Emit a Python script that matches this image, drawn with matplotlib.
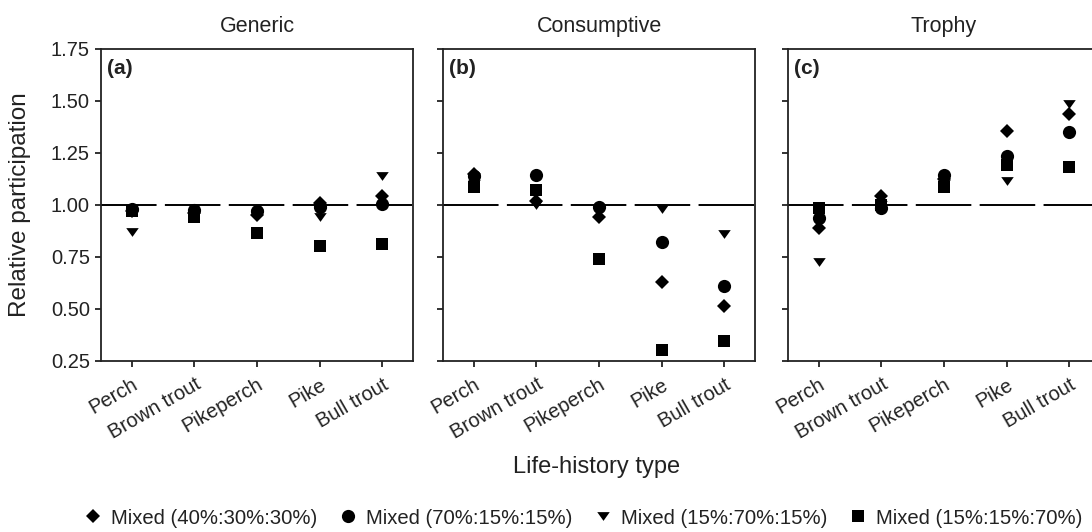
import matplotlib
matplotlib.use("Agg")
import matplotlib.pyplot as plt
import numpy as np

plt.rcParams['font.family'] = ['Liberation Sans', 'DejaVu Sans']
plt.rcParams['lines.scale_dashes'] = False

categories = ["Perch", "Brown trout", "Pikeperch", "Pike", "Bull trout"]
panel_titles = ["Generic", "Consumptive", "Trophy"]
panel_tags = ["(a)", "(b)", "(c)"]
series_names = ["Mixed (40%:30%:30%)", "Mixed (70%:15%:15%)",
                "Mixed (15%:70%:15%)", "Mixed (15%:15%:70%)"]

# values per panel: [diamond, circle, triangle, square], each over categories
generic_40_30_30 = [0.97, 0.96, 0.95, 1.01, 1.04]
generic_70_15_15 = [0.98, 0.975, 0.97, 0.99, 1.005]
generic_15_70_15 = [0.87, 0.96, 0.96, 0.94, 1.14]
generic_15_15_70 = [0.97, 0.94, 0.865, 0.80, 0.81]

consum_40_30_30 = [1.15, 1.02, 0.94, 0.63, 0.515]
consum_70_15_15 = [1.14, 1.143, 0.99, 0.82, 0.61]
consum_15_70_15 = [1.10, 1.00, 0.98, 0.98, 0.86]
consum_15_15_70 = [1.087, 1.07, 0.74, 0.305, 0.345]

trophy_40_30_30 = [0.89, 1.04, 1.125, 1.355, 1.435]
trophy_70_15_15 = [0.935, 0.985, 1.145, 1.235, 1.35]
trophy_15_70_15 = [0.725, 1.00, 1.10, 1.115, 1.485]
trophy_15_15_70 = [0.985, 1.00, 1.083, 1.19, 1.18]

panels = [
    [generic_40_30_30, generic_70_15_15, generic_15_70_15, generic_15_15_70],
    [consum_40_30_30, consum_70_15_15, consum_15_70_15, consum_15_15_70],
    [trophy_40_30_30, trophy_70_15_15, trophy_15_70_15, trophy_15_15_70],
]

y_ticks = [0.25, 0.50, 0.75, 1.00, 1.25, 1.50, 1.75]

tri_down = [(-1, 0.7), (1, 0.7), (0, -0.7), (-1, 0.7)]
marker_styles = [dict(marker='D', ms=7.0), dict(marker='o', ms=9.5),
                 dict(marker=tri_down, ms=9.0), dict(marker='s', ms=8.2)]

fig = plt.figure(figsize=(10.92, 5.32), dpi=100)
W, H = 1092, 532
lefts = [101, 443, 788]
ax_w = 312
top_px, bot_px = 48.5, 361
spine_col = '#222222'
txt_col = '#222222'

xpos = np.arange(len(categories))
handles = []
for i, (left, data) in enumerate(zip(lefts, panels)):
    ax = fig.add_axes([left / W, 1 - bot_px / H, ax_w / W, (bot_px - top_px) / H])
    ax.axhline(1.0, color='black', lw=1.4, dashes=(40, 6), zorder=1)
    for s, (vals, ms) in enumerate(zip(data, marker_styles)):
        h, = ax.plot(xpos, vals, ls='none', color='black', mec='black',
                     mew=0, zorder=3 + (3 - s) * 0.1, **ms)
        if i == 0:
            handles.append(h)
    ax.set_xlim(-0.49, 4.49)
    ax.set_ylim(0.25, 1.75)
    ax.set_yticks(y_ticks)
    ax.set_xticks(xpos)
    ax.set_xticklabels(categories, rotation=30, ha='right', va='top',
                       rotation_mode='anchor', fontsize=14.5, color=txt_col)
    if i == 0:
        ax.set_yticklabels([f"{v:.2f}" for v in y_ticks], fontsize=14.5, color=txt_col)
    else:
        ax.set_yticklabels([])
    ax.tick_params(direction='out', length=4, width=1.3, color=spine_col, pad=4)
    ax.tick_params(axis='x', pad=6)
    for sp in ax.spines.values():
        sp.set_linewidth(1.3)
        sp.set_color(spine_col)
    ax.set_title(panel_titles[i], fontsize=15.5, pad=12, color=txt_col)
    ax.text(0.02, 0.965, panel_tags[i], transform=ax.transAxes, fontsize=15,
            fontweight='bold', va='top', ha='left', color=txt_col)

fig.text(20 / W, 1 - 205 / H, "Relative participation", rotation=90,
         ha='center', va='center', fontsize=17.5, color=txt_col)
fig.text(597 / W, 1 - 467 / H, "Life-history type", ha='center', va='center',
         fontsize=17, color=txt_col)

fig.legend(handles, series_names, loc='center', bbox_to_anchor=(584 / W, 1 - 518 / H),
           ncol=4, frameon=False, fontsize=14.6, handlelength=0.8, handletextpad=0.5,
           columnspacing=1.1, borderpad=0, labelcolor=txt_col)

fig.savefig("out.png", dpi=100)
